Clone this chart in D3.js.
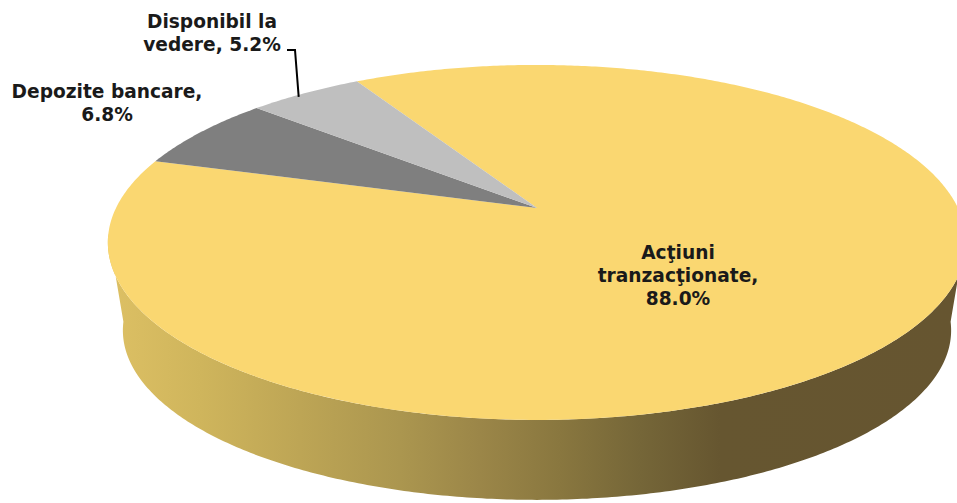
<!DOCTYPE html>
<html>
<head>
<meta charset="utf-8">
<script src="https://cdn.jsdelivr.net/npm/d3@7"></script>
<style>
  body { margin: 0; background: #fff; }
  svg { display: block; }
</style>
</head>
<body>
<div class="canvas"></div>
<script>
// data
const categories = ['Acţiuni tranzacţionate', 'Depozite bancare', 'Disponibil la vedere'];
const values = [88.0, 6.8, 5.2];
const sliceColors = ['#fad771', '#7f7f7f', '#bfbfbf'];
const labelLines = [
  ['Acţiuni', 'tranzacţionate,', '88.0%'],
  ['Depozite bancare,', '6.8%'],
  ['Disponibil la', 'vedere, 5.2%']
];

const width = 957, height = 503;

const svg = d3.select('.canvas')
  .append('svg')
    .attr('width', width)
    .attr('height', height);

// perspective pie geometry
const cx = 537, cy = 208;     // pie centre on the top face
const rx = 421, ry = 170.8;   // radii before perspective
const k = 0.194;              // perspective strength
const bx = 0.965, by = 0.955, depth = 89.5; // bottom face

// angle (d3 pie convention, 0 = 12 o'clock, clockwise) -> screen point
function topPoint(a) {
  const u = Math.sin(a), v = -Math.cos(a);
  const w = 1 - k * v;
  return [cx + rx * u / w, cy + ry * v / w];
}
function bottomPoint(a) {
  const p = topPoint(a);
  return [cx + (p[0] - cx) * bx, cy + (p[1] - cy) * by + depth];
}
function arcPoints(fn, a0, a1) {
  const n = Math.max(2, Math.ceil(Math.abs(a1 - a0) / 0.01));
  return d3.range(n + 1).map(i => fn(a0 + (a1 - a0) * i / n));
}

const line = d3.line();

const pie = d3.pie()
  .sort(null)
  .startAngle(-30 * Math.PI / 180)
  .endAngle(330 * Math.PI / 180)
  .value(d => d);

const arcs = pie(values);

// side gradient
const defs = svg.append('defs');
const grad = defs.append('linearGradient')
  .attr('id', 'sideGrad')
  .attr('gradientUnits', 'userSpaceOnUse')
  .attr('x1', 108).attr('x2', 957)
  .attr('y1', 0).attr('y2', 0);
const stops = [
  [108, '#ddc064'], [200, '#cfb55c'], [300, '#bda555'], [400, '#ab964f'],
  [480, '#9b8648'], [560, '#89773f'], [640, '#756638'], [720, '#665630'], [957, '#665530']
];
grad.selectAll('stop')
  .data(stops)
  .enter().append('stop')
    .attr('offset', d => (d[0] - 108) / (957 - 108))
    .attr('stop-color', d => d[1]);

// side wall (front half only, all of it belongs to the big slice)
const aRight = Math.PI - Math.acos(k);   // right-most angle
const aLeft = Math.PI + Math.acos(k);    // left-most angle
const sidePts = arcPoints(topPoint, aRight - 0.05, aLeft + 0.05)
  .concat(arcPoints(bottomPoint, aLeft + 0.05, aRight - 0.05));

svg.append('path')
  .attr('d', line(sidePts) + 'Z')
  .attr('fill', 'url(#sideGrad)');

// top face slices
svg.selectAll('path.slice')
  .data(arcs)
  .enter().append('path')
    .attr('class', 'slice')
    .attr('d', d => line([[cx, cy]].concat(arcPoints(topPoint, d.startAngle, d.endAngle))) + 'Z')
    .attr('fill', (d, i) => sliceColors[i]);

// labels
const labelPos = [
  { x: 678, y: 259 },
  { x: 107, y: 98 },
  { x: 212, y: 28 }
];
const lineH = 22.8;

labelLines.forEach((lines, i) => {
  const t = svg.append('text')
    .attr('text-anchor', 'middle')
    .attr('font-family', 'DejaVu Sans, Verdana, sans-serif')
    .attr('font-weight', 'bold')
    .attr('font-size', '18.6px')
    .attr('fill', '#1a1a1a');
  lines.forEach((s, j) => {
    t.append('tspan')
      .attr('x', labelPos[i].x)
      .attr('y', labelPos[i].y + j * lineH)
      .text(s);
  });
});

// leader line for the small slice
const mid = (arcs[2].startAngle + arcs[2].endAngle) / 2;
const edge = topPoint(mid - 0.02);
svg.append('path')
  .attr('d', line([[287, 50], [295, 50], [edge[0], edge[1] + 2]]))
  .attr('fill', 'none')
  .attr('stroke', '#000')
  .attr('stroke-width', 2);
</script>
</body>
</html>
